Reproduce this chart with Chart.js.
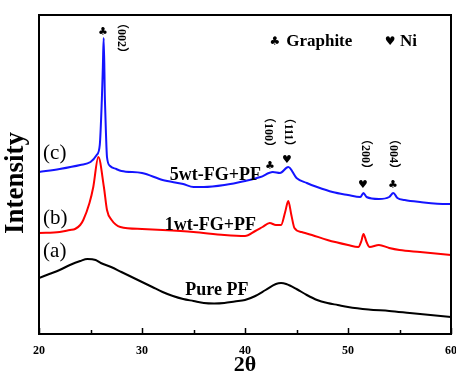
<!DOCTYPE html>
<html>
<head>
<meta charset="utf-8">
<script src="https://cdn.jsdelivr.net/npm/chart.js@4"></script>
<style>
  html, body { margin: 0; padding: 0; background: #fff; }
  #xrdChart { display: block; }
</style>
</head>
<body>
<canvas id="xrdChart" width="456" height="374"></canvas>
<script>
// 2θ 刻度
const xTicks = [20, 30, 40, 50, 60];

// (a) Pure PF
const pfTheta = [20, 21, 22, 23, 24, 24.7, 25.5, 26, 27, 28, 29, 30, 31, 32, 33, 34, 35, 36, 37, 38, 39, 40, 41, 42, 43, 43.5, 44, 45, 46, 47, 48, 49, 50, 52, 54, 56, 58, 60];
const pfInt = [56, 60, 64, 69, 73, 75, 74, 71, 67, 62, 57, 52, 47, 42, 38, 35, 33, 31, 30.5, 31, 32.5, 34, 38, 44, 50, 51, 50, 45, 39, 34, 31, 29, 27, 24.5, 23, 21, 19, 17];

// (b) 1wt-FG+PF
const fg1Theta = [20, 22, 23, 23.5, 24, 24.3, 24.9, 25.27, 25.76, 26.3, 26.6, 27.05, 27.9, 30, 32, 35, 38, 40, 41, 41.7, 42.4, 43, 43.5, 43.9, 44.2, 44.5, 44.8, 45.5, 46.5, 48, 50, 51, 51.3, 51.5, 51.8, 52.1, 53, 54, 55, 57, 58, 60];
const fg1Int = [101, 102, 104, 105, 109, 114, 131, 147, 177, 147, 124, 114, 107, 105, 104, 102, 99, 98, 103, 107, 111, 109, 109, 122, 133, 119, 106, 102, 99, 94, 89, 87, 93, 100, 92, 87, 89, 86, 84, 82, 81, 79];

// (c) 5wt-FG+PF
const fg5Theta = [20, 22, 24, 25, 25.6, 25.9, 26.1, 26.2, 26.28, 26.4, 26.5, 26.6, 26.9, 27.5, 28, 30, 32, 34, 35, 36, 38, 40, 41.5, 42.7, 43.4, 44.2, 45, 46, 47, 48.5, 50, 51.2, 51.5, 51.8, 53, 54, 54.4, 54.8, 55.5, 57, 59.6, 60];
const fg5Int = [162, 165, 169, 172, 179, 189, 234, 267, 296, 234, 201, 177, 168, 165, 163, 161, 154, 150, 147, 147, 149, 153, 157, 162, 161, 167, 156, 151, 147, 142, 139, 137, 141, 137, 135, 137, 141, 136, 134, 132, 130, 130];

function toPoints(xs, ys) {
    return xs.map((v, i) => ({ x: v, y: ys[i] }));
}

const serif = "'Liberation Serif', 'DejaVu Serif', serif";
const sym = "'DejaVu Sans', sans-serif";

// 标注插件：边框、内向刻度、文字
const annotPlugin = {
    id: 'annot',
    afterDraw(chart) {
        const { ctx, chartArea: a, scales: { x, y } } = chart;
        const X = v => x.getPixelForValue(v);
        const Y = v => y.getPixelForValue(v);
        ctx.save();
        ctx.strokeStyle = '#000';
        ctx.lineWidth = 2;
        ctx.strokeRect(a.left, a.top, a.right - a.left, a.bottom - a.top);

        ctx.lineWidth = 1.5;
        for (let v = 20; v <= 60; v += 5) {
            const px = Math.round(X(v)) + 0.5;
            const len = v % 10 === 0 ? 6 : 4;
            ctx.beginPath();
            ctx.moveTo(px, a.bottom);
            ctx.lineTo(px, a.bottom - len);
            ctx.stroke();
        }

        ctx.fillStyle = '#000';
        ctx.textBaseline = 'middle';

        function txt(s, vx, vy, font, align) {
            ctx.font = font;
            ctx.textAlign = align || 'left';
            ctx.fillText(s, X(vx), Y(vy));
        }
        function vtxt(s, vx, vy, font, angle) {
            ctx.save();
            ctx.translate(X(vx), Y(vy));
            ctx.rotate(angle);
            ctx.font = font;
            ctx.textAlign = 'center';
            ctx.fillText(s, 0, 0);
            ctx.restore();
        }

        const lab = 'bold 18px ' + serif;
        txt('5wt-FG+PF', 32.7, 159, lab);
        txt('1wt-FG+PF', 32.2, 109, lab);
        txt('Pure PF', 34.2, 44, lab);

        const ser = '21px ' + serif;
        txt('(c)', 20.4, 181, ser);
        txt('(b)', 20.4, 116, ser);
        txt('(a)', 20.4, 83, ser);

        // 图例
        txt('\u2663', 42.9, 292, '12px ' + sym, 'center');
        txt('Graphite', 44.0, 292, 'bold 17px ' + serif);
        txt('\u2665', 54.1, 292, '12px ' + sym, 'center');
        txt('Ni', 55.05, 292, 'bold 17px ' + serif);

        // 峰位标记
        const s = '11px ' + sym;
        txt('\u2663', 26.2, 302, s, 'center');
        txt('\u2663', 42.43, 168, s, 'center');
        txt('\u2665', 44.08, 174, s, 'center');
        txt('\u2665', 51.46, 149, s, 'center');
        txt('\u2663', 54.37, 149, s, 'center');

        const hk = "bold 12px 'Liberation Serif', 'Noto Sans CJK SC', serif";
        const r = Math.PI / 2;
        vtxt('\uFF08002\uFF09', 27.96, 296, hk, r);
        vtxt('\uFF08100\uFF09', 42.23, 202, hk, r);
        vtxt('\uFF08111\uFF09', 44.17, 202, hk, r);
        vtxt('\uFF08200\uFF09', 51.65, 180, hk, r);
        vtxt('\uFF08004\uFF09', 54.37, 180, hk, r);

        // 轴标题
        ctx.font = 'bold 22px ' + serif;
        ctx.textAlign = 'center';
        ctx.fillText('2\u03B8', X(40), 365);
        ctx.save();
        ctx.translate(16, 183);
        ctx.rotate(-Math.PI / 2);
        ctx.font = 'bold 27px ' + serif;
        ctx.fillText('Intensity', 0, 0);
        ctx.restore();

        ctx.restore();
    }
};

function initChart() {
    const ctx = document.getElementById('xrdChart').getContext('2d');
    const line = { pointRadius: 0, borderWidth: 2, fill: false, cubicInterpolationMode: 'monotone' };
    new Chart(ctx, {
        type: 'line',
        data: {
            datasets: [
                Object.assign({ label: '5wt-FG+PF', data: toPoints(fg5Theta, fg5Int), borderColor: '#1414ff' }, line),
                Object.assign({ label: '1wt-FG+PF', data: toPoints(fg1Theta, fg1Int), borderColor: '#ff0000' }, line),
                Object.assign({ label: 'Pure PF', data: toPoints(pfTheta, pfInt), borderColor: '#000000' }, line)
            ]
        },
        options: {
            responsive: false,
            animation: false,
            devicePixelRatio: 1,
            layout: { padding: { left: 39, right: 5, top: 15, bottom: 0 } },
            plugins: { legend: { display: false }, tooltip: { enabled: false } },
            scales: {
                x: {
                    type: 'linear',
                    min: 20,
                    max: 60,
                    grid: { display: false, drawTicks: false },
                    border: { display: false },
                    afterBuildTicks: scale => { scale.ticks = xTicks.map(v => ({ value: v })); },
                    afterFit: scale => {
                        scale.height = 40;
                        scale.paddingLeft = 0;
                        scale.paddingRight = 0;
                    },
                    ticks: {
                        color: '#000',
                        padding: 10,
                        maxRotation: 0,
                        font: { family: serif, size: 12, weight: 'bold' }
                    }
                },
                y: { display: false, min: 0, max: 319 }
            }
        },
        plugins: [annotPlugin]
    });
}

document.addEventListener('DOMContentLoaded', initChart);
</script>
</body>
</html>
